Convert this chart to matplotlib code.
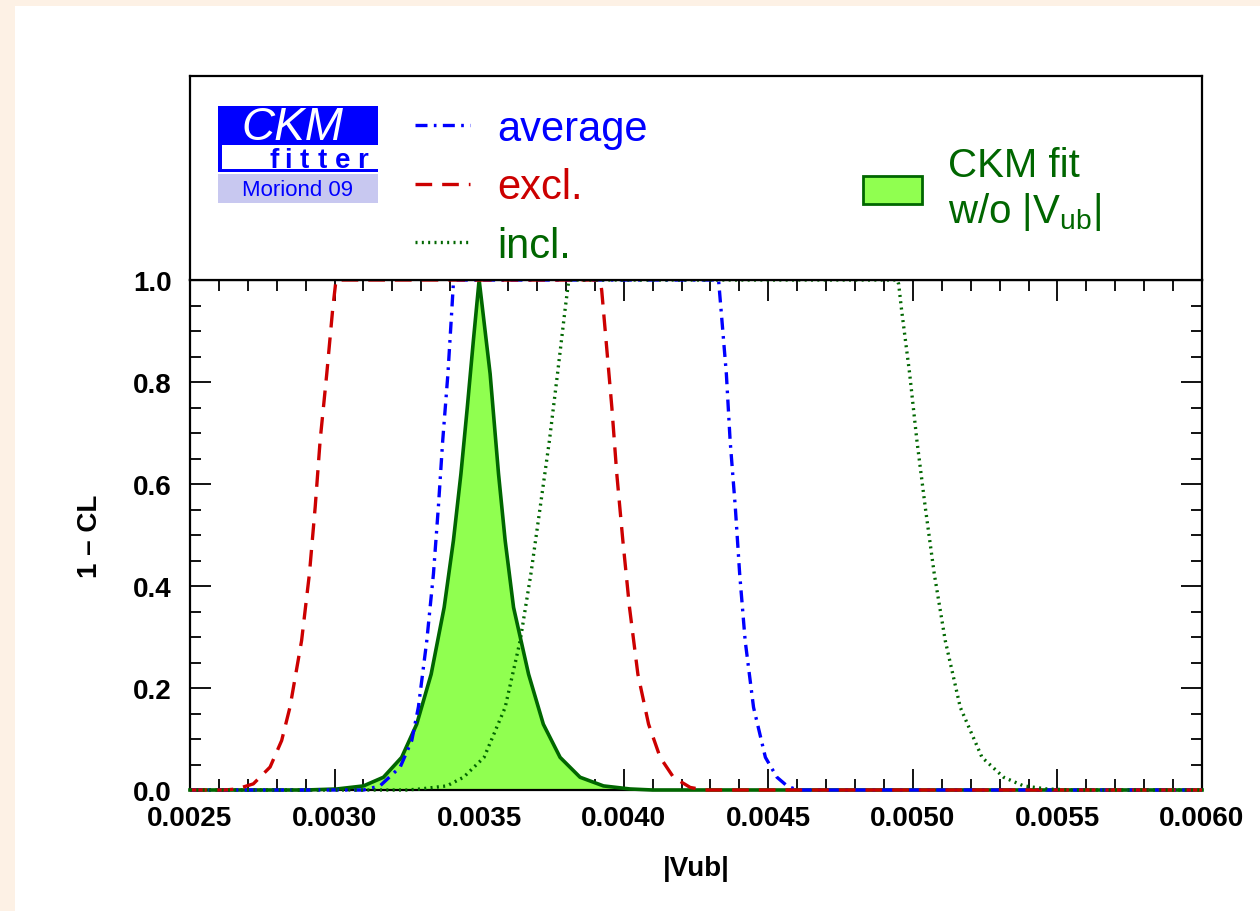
import matplotlib
matplotlib.use("Agg")
import matplotlib.pyplot as plt
from matplotlib.lines import Line2D
from matplotlib.patches import Patch, Rectangle
from matplotlib.ticker import MultipleLocator, FormatStrFormatter

plt.rcParams['font.family'] = ['Liberation Sans', 'DejaVu Sans']
plt.rcParams['mathtext.fontset'] = 'custom'
plt.rcParams['mathtext.rm'] = 'Liberation Sans'
plt.rcParams['mathtext.it'] = 'Liberation Sans:italic'

# CKM fit without |Vub| (1 - CL profile)
fit_x = [0.0025, 0.00290, 0.003008, 0.003100, 0.003169, 0.003232, 0.003284, 0.003334,
         0.003379, 0.003411, 0.003437, 0.003459, 0.003480, 0.003500, 0.003538, 0.003567,
         0.003590, 0.003619, 0.003671, 0.003722, 0.003780, 0.003849, 0.003930, 0.004022,
         0.004100, 0.0060]
fit_y = [0.0, 0.0, 0.002, 0.008, 0.025, 0.064, 0.129, 0.227,
         0.358, 0.489, 0.620, 0.750, 0.881, 1.0, 0.816, 0.620,
         0.489, 0.358, 0.227, 0.129, 0.064, 0.025, 0.008, 0.002,
         0.0, 0.0]

# average
avg_x = [0.0025, 0.003100, 0.003157, 0.003227, 0.003267, 0.003290, 0.003319, 0.003342,
         0.003359, 0.003374, 0.003392, 0.003406, 0.003411, 0.003420, 0.004328, 0.004336,
         0.004355, 0.004368, 0.004386, 0.004401, 0.004420, 0.004449, 0.004490, 0.004530,
         0.004565, 0.004600, 0.0060]
avg_y = [0.0, 0.0, 0.008, 0.045, 0.097, 0.163, 0.293, 0.424,
         0.555, 0.685, 0.816, 0.946, 0.995, 1.0, 1.0, 0.946,
         0.816, 0.685, 0.554, 0.424, 0.293, 0.162, 0.064, 0.025,
         0.008, 0.0, 0.0]

# exclusive
excl_x = [0.0025, 0.002620, 0.002662, 0.002719, 0.002777, 0.002817, 0.002846, 0.002886,
          0.002913, 0.002933, 0.002950, 0.002973, 0.002994, 0.003005, 0.003919, 0.003924,
          0.003939, 0.003959, 0.003976, 0.003997, 0.004020, 0.004049, 0.004086, 0.004126,
          0.004172, 0.004230, 0.004280, 0.0060]
excl_y = [0.0, 0.0, 0.002, 0.012, 0.045, 0.097, 0.163, 0.293,
          0.424, 0.555, 0.685, 0.816, 0.946, 1.0, 1.0, 0.979,
          0.881, 0.750, 0.620, 0.489, 0.358, 0.227, 0.129, 0.064,
          0.025, 0.005, 0.0, 0.0]

# inclusive
incl_x = [0.0025, 0.003250, 0.003296, 0.003388, 0.003446, 0.003517, 0.003590, 0.003642,
          0.003679, 0.003711, 0.003743, 0.003771, 0.003798, 0.003809, 0.003815, 0.004945,
          0.004951, 0.004960, 0.004989, 0.005014, 0.005043, 0.005074, 0.005112, 0.005164,
          0.005239, 0.005314, 0.005383, 0.005464, 0.005550, 0.0060]
incl_y = [0.0, 0.0, 0.002, 0.008, 0.025, 0.064, 0.162, 0.293,
          0.424, 0.554, 0.685, 0.816, 0.946, 0.995, 1.0, 1.0,
          0.992, 0.946, 0.816, 0.685, 0.554, 0.424, 0.293, 0.162,
          0.064, 0.025, 0.008, 0.002, 0.0, 0.0]

BLUE = '#0000FF'
RED = '#CC0000'
DGREEN = '#006600'
LGREEN = '#90FF50'

W, H = 1260, 912
fig = plt.figure(figsize=(W / 100, H / 100), dpi=100, facecolor='#FDF1E5')


def fx(px):
    return px / W


def fy(py):
    return 1 - py / H


# white inner page
fig.patches.append(Rectangle((fx(15), 0), 1 - fx(15), fy(7), transform=fig.transFigure,
                             facecolor='white', edgecolor='none', zorder=-10))

L, R, T, M, B = 190, 1202, 77, 281, 791
ax = fig.add_axes([fx(L), fy(B), fx(R) - fx(L), fy(M) - fy(B)])
pax = fig.add_axes([fx(L), fy(M), fx(R) - fx(L), fy(T) - fy(M)])

LW = 2.4
dash_avg = (3.6, 1.9, 0.8, 1.9)
dash_excl = (5.0, 3.0)
dash_incl = (0.6, 1.3)

ax.fill_between(fit_x, fit_y, 0, color=LGREEN, lw=0, zorder=2)
ax.plot(fit_x, fit_y, color=DGREEN, lw=2.6, zorder=3, clip_on=False)
ax.plot(avg_x, avg_y, color=BLUE, lw=LW, dashes=dash_avg, zorder=4, clip_on=False)
ax.plot(excl_x, excl_y, color=RED, lw=LW, dashes=dash_excl, zorder=4, clip_on=False)
ax.plot(incl_x, incl_y, color=DGREEN, lw=LW, dashes=dash_incl, zorder=4, clip_on=False)

ax.set_xlim(0.0025, 0.0060)
ax.set_ylim(0, 1.0)
ax.xaxis.set_major_locator(MultipleLocator(0.0005))
ax.xaxis.set_minor_locator(MultipleLocator(0.0001))
ax.yaxis.set_major_locator(MultipleLocator(0.2))
ax.yaxis.set_minor_locator(MultipleLocator(0.05))
ax.xaxis.set_major_formatter(FormatStrFormatter('%.4f'))
ax.yaxis.set_major_formatter(FormatStrFormatter('%.1f'))
ax.tick_params(which='both', direction='in', top=True, right=True, width=1.3, color='black')
ax.tick_params(which='major', length=15)
ax.tick_params(which='minor', length=8)
ax.tick_params(axis='x', pad=11, labelsize=20)
ax.tick_params(axis='y', pad=13, labelsize=20)
for lab in ax.get_xticklabels() + ax.get_yticklabels():
    lab.set_fontweight('bold')
for sp in ax.spines.values():
    sp.set_linewidth(1.6)
ax.set_xlabel('|Vub|', fontsize=20, fontweight='bold', labelpad=17)
ax.set_ylabel('1 \u2013 CL', fontsize=20, fontweight='bold', labelpad=22)

pax.set_xticks([])
pax.set_yticks([])
for sp in pax.spines.values():
    sp.set_linewidth(1.6)

# legend of the three inputs
handles = [Line2D([], [], color=BLUE, lw=LW, dashes=dash_avg),
           Line2D([], [], color=RED, lw=LW, dashes=dash_excl),
           Line2D([], [], color=DGREEN, lw=LW, dashes=dash_incl)]
leg1 = pax.legend(handles, ['average', 'excl.', 'incl.'], loc='upper left',
                  bbox_to_anchor=(fx(415), fy(110)), bbox_transform=fig.transFigure,
                  frameon=False, fontsize=30, handlelength=1.33, handletextpad=0.65,
                  labelspacing=0.44, borderpad=0, borderaxespad=0, labelcolor='linecolor')
pax.add_artist(leg1)

leg2 = pax.legend([Patch(facecolor=LGREEN, edgecolor=DGREEN, lw=2.0)],
                  ['CKM fit\nw/o |V$_{\\rm ub}$|'], loc='upper left',
                  bbox_to_anchor=(fx(863), fy(147)), bbox_transform=fig.transFigure,
                  frameon=False, fontsize=29, handlelength=1.46, handleheight=0.72,
                  handletextpad=0.65, borderpad=0, borderaxespad=0, labelcolor=DGREEN)

# CKMfitter logo
fig.patches.append(Rectangle((fx(218), fy(146)), fx(378) - fx(218), fy(107) - fy(146),
                             transform=fig.transFigure, facecolor=BLUE, edgecolor='none'))
fig.patches.append(Rectangle((fx(218), fy(173)), fx(378) - fx(218), fy(146) - fy(173),
                             transform=fig.transFigure, facecolor=BLUE, edgecolor='none'))
fig.patches.append(Rectangle((fx(221.5), fy(170)), fx(378) - fx(221.5), fy(146) - fy(170),
                             transform=fig.transFigure, facecolor='white', edgecolor='none'))
fig.patches.append(Rectangle((fx(218), fy(204)), fx(378) - fx(218), fy(175) - fy(204),
                             transform=fig.transFigure, facecolor='#C8C8F0', edgecolor='none'))
fig.text(fx(292), fy(128), 'CKM', color='white', fontsize=33, fontstyle='italic',
         ha='center', va='center')
for letter, px in zip('fitter', [274, 288, 304, 322.5, 342.5, 362.5]):
    fig.text(fx(px), fy(168), letter, color=BLUE, fontsize=20, fontweight='bold',
             ha='center', va='baseline')
fig.text(fx(298), fy(190), 'Moriond 09', color=BLUE, fontsize=16, ha='center', va='center')

fig.savefig('out.png', dpi=100, facecolor=fig.get_facecolor())
